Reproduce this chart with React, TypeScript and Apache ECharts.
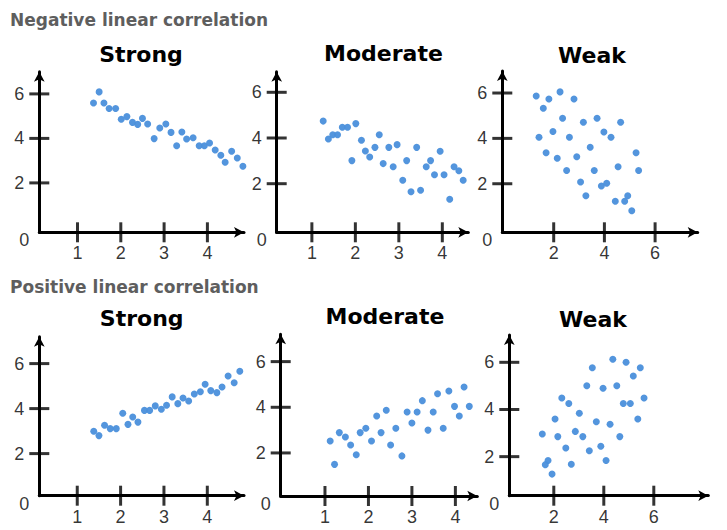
import React, { useEffect, useRef } from 'react';
import * as echarts from 'echarts';

// ---- data ----
const negStrong: [number, number][] = [
  [1.37, 5.59], [1.5, 6.09], [1.61, 5.59], [1.73, 5.34], [1.88, 5.34], [2.01, 4.86], [2.14, 4.98],
  [2.27, 4.72], [2.39, 4.63], [2.5, 4.9], [2.62, 4.65], [2.77, 3.99], [2.9, 4.47], [3.04, 4.65],
  [3.16, 4.27], [3.29, 3.67], [3.41, 4.29], [3.52, 3.97], [3.67, 4.03], [3.81, 3.67], [3.93, 3.67],
  [4.05, 3.79], [4.18, 3.48], [4.31, 3.24], [4.41, 2.93], [4.56, 3.42], [4.69, 3.12], [4.82, 2.75],
];
const negModerate: [number, number][] = [
  [1.26, 4.74], [1.38, 3.96], [1.48, 4.14], [1.59, 4.14], [1.7, 4.47], [1.82, 4.47], [2.01, 4.63],
  [1.92, 3.01], [2.14, 3.9], [2.23, 3.43], [2.33, 3.17], [2.45, 3.59], [2.55, 4.14], [2.64, 2.88],
  [2.77, 3.59], [2.87, 2.74], [2.96, 3.71], [3.09, 2.15], [3.18, 3.01], [3.28, 1.65], [3.41, 3.59],
  [3.5, 1.71], [3.63, 2.74], [3.73, 3.01], [3.82, 2.39], [3.95, 3.42], [4.04, 2.39], [4.17, 1.32],
  [4.27, 2.74], [4.38, 2.57], [4.48, 2.15],
];
const negWeak: [number, number][] = [
  [1.31, 5.87], [1.81, 5.74], [2.25, 6.05], [2.8, 5.74], [1.59, 5.33], [2.35, 4.89], [3.17, 4.71],
  [3.71, 4.89], [4.64, 4.71], [1.97, 4.3], [1.42, 4.05], [2.62, 4.05], [3.98, 4.28], [4.26, 4.05],
  [3.44, 3.61], [1.7, 3.37], [2.14, 3.12], [2.91, 3.19], [5.25, 3.37], [2.51, 2.58], [3.6, 2.58],
  [4.54, 2.75], [5.35, 2.58], [3.06, 2.08], [3.88, 1.9], [4.09, 2.02], [3.27, 1.47], [4.43, 1.23],
  [4.8, 1.23], [4.92, 1.47], [5.08, 0.81],
];
const posStrong: [number, number][] = [
  [1.38, 2.99], [1.5, 2.8], [1.63, 3.26], [1.76, 3.11], [1.9, 3.11], [2.05, 3.79], [2.17, 3.3],
  [2.28, 3.63], [2.4, 3.4], [2.55, 3.92], [2.67, 3.92], [2.8, 4.12], [2.94, 3.97], [3.06, 4.15],
  [3.19, 4.52], [3.32, 4.22], [3.44, 4.47], [3.57, 4.34], [3.7, 4.65], [3.84, 4.75], [3.95, 5.08],
  [4.08, 4.8], [4.22, 4.71], [4.34, 4.96], [4.48, 5.45], [4.62, 5.15], [4.75, 5.66], [4.89, 5.54],
];
const posModerate: [number, number][] = [
  [1.12, 2.52], [1.22, 1.5], [1.33, 2.89], [1.47, 2.7], [1.59, 2.35], [1.72, 1.92], [1.81, 2.89],
  [1.94, 3.08], [2.07, 2.52], [2.19, 3.62], [2.29, 2.89], [2.41, 3.87], [2.51, 2.35], [2.63, 3.08],
  [2.77, 1.87], [2.89, 3.79], [3.0, 3.31], [3.12, 3.79], [3.24, 4.29], [3.37, 3.0], [3.49, 3.79],
  [3.59, 4.59], [3.72, 3.08], [3.85, 4.71], [3.98, 4.04], [4.09, 3.62], [4.2, 4.89], [4.32, 4.04],
];
const posWeak: [number, number][] = [
  [4.36, 6.13], [4.89, 6.0], [3.54, 5.77], [5.46, 5.77], [5.18, 5.42], [3.32, 5.01], [3.97, 4.9],
  [4.52, 5.01], [2.32, 4.49], [2.6, 4.25], [4.78, 4.25], [5.06, 4.25], [5.61, 4.49], [2.05, 3.6],
  [3.02, 3.84], [3.7, 3.48], [4.25, 3.37], [5.36, 3.6], [1.54, 2.96], [2.16, 2.85], [2.86, 3.07],
  [3.16, 2.85], [4.64, 2.85], [2.48, 2.37], [3.42, 2.25], [3.88, 2.44], [1.77, 1.84], [1.66, 1.66],
  [2.7, 1.68], [4.09, 1.84], [1.93, 1.26],
];

const xTicksNarrow = [1, 2, 3, 4];
const xTicksWide = [2, 4, 6];
const yTicks = [2, 4, 6];
const originLabel = '0';
const sectionTitles = ['Negative linear correlation', 'Positive linear correlation'];
const strengthTitles = ['Strong', 'Moderate', 'Weak'];

// ---- layout (pixel geometry of each panel) ----
type Layout = { axisX: number; axisY: number; xTip: number; yTip: number; x0: number; xs: number; y0: number; ys: number };
const layouts: Layout[] = [
  { axisX: 39.3, axisY: 232.3, xTip: 249, yTip: 66.7, x0: 34.2, xs: 43.3, y0: 227.4, ys: 22.25 },
  { axisX: 276.7, axisY: 232.3, xTip: 473.3, yTip: 66.7, x0: 268.4, xs: 43.48, y0: 229.4, ys: 22.85 },
  { axisX: 502.3, axisY: 232.3, xTip: 702.7, yTip: 66, x0: 503.0, xs: 25.35, y0: 229.1, ys: 22.68 },
  { axisX: 39.3, axisY: 495.7, xTip: 249, yTip: 331.7, x0: 33.9, xs: 43.35, y0: 498.6, ys: 22.5 },
  { axisX: 280.7, axisY: 496, xTip: 482.3, yTip: 329.3, x0: 281.5, xs: 43.47, y0: 498.6, ys: 22.83 },
  { axisX: 509.3, axisY: 495.7, xTip: 713.3, yTip: 330, x0: 503.8, xs: 25, y0: 503.8, ys: 23.58 },
];
const panelData = [negStrong, negModerate, negWeak, posStrong, posModerate, posWeak];
const panelXTicks = [xTicksNarrow, xTicksNarrow, xTicksWide, xTicksNarrow, xTicksNarrow, xTicksWide];
const titlePos = [
  [141, 54.5], [383.5, 53], [592, 55],
  [141.7, 318], [385, 316.5], [593, 319],
];
const sectionPos = [[10, 20], [10, 287]];

const DOT = '#4a8fdb';
const LABEL_FONT = 'Liberation Sans, Arial, sans-serif';
const TITLE_FONT = 'DejaVu Sans, sans-serif';

function buildOption() {
  const grid: any[] = [];
  const xAxis: any[] = [];
  const yAxis: any[] = [];
  const series: any[] = [];
  layouts.forEach((p, i) => {
    const left = p.axisX;
    const top = p.yTip + 5;
    const right = p.xTip - 5;
    grid.push({ left, top, width: right - left, height: p.axisY - top, containLabel: false });
    const xmin = (p.axisX - p.x0) / p.xs;
    const xmax = (right - p.x0) / p.xs;
    const ymin = (p.y0 - p.axisY) / p.ys;
    const ymax = (p.y0 - top) / p.ys;
    const common = {
      type: 'value',
      gridIndex: i,
      axisLine: {
        show: true,
        onZero: false,
        symbol: ['none', 'arrow'],
        symbolSize: [8, 10],
        lineStyle: { color: '#000', width: 3 },
      },
      axisTick: { show: false },
      axisLabel: { show: false },
      splitLine: { show: false },
    };
    xAxis.push({ ...common, min: xmin, max: xmax });
    yAxis.push({ ...common, min: ymin, max: ymax });
    const labelBase = { show: true, fontSize: 18, fontFamily: LABEL_FONT, color: '#000' };
    series.push({
      type: 'scatter', xAxisIndex: i, yAxisIndex: i, silent: true,
      data: panelData[i], symbolSize: 7, itemStyle: { color: DOT, opacity: 0.95 }, z: 5,
    });
    series.push({
      type: 'scatter', xAxisIndex: i, yAxisIndex: i, silent: true, clip: false,
      data: panelXTicks[i].map((v) => [v, ymin]), symbol: 'rect', symbolSize: [3, 20],
      itemStyle: { color: '#000' },
      label: { ...labelBase, position: 'bottom', distance: 2, formatter: (d: any) => String(d.value[0]) },
    });
    series.push({
      type: 'scatter', xAxisIndex: i, yAxisIndex: i, silent: true, clip: false,
      data: yTicks.map((v) => [xmin, v]), symbol: 'rect', symbolSize: [20, 3],
      itemStyle: { color: '#000' },
      label: { ...labelBase, position: 'left', distance: 5, formatter: (d: any) => String(d.value[1]) },
    });
    series.push({
      type: 'scatter', xAxisIndex: i, yAxisIndex: i, silent: true, clip: false,
      data: [[xmin, ymin]], symbolSize: 0,
      itemStyle: { color: 'rgba(0,0,0,0)' },
      label: { ...labelBase, position: 'left', distance: 10, offset: [0, 8], formatter: () => originLabel },
    });
  });

  const graphic: any[] = [];
  sectionTitles.forEach((t, i) => {
    graphic.push({
      type: 'text', x: sectionPos[i][0], y: sectionPos[i][1],
      style: { text: t, fill: '#5e5e5e', font: `bold 17px ${TITLE_FONT}`, align: 'left', verticalAlign: 'middle' },
    });
  });
  titlePos.forEach((pos, i) => {
    graphic.push({
      type: 'text', x: pos[0], y: pos[1],
      style: { text: strengthTitles[i % 3], fill: '#000', font: `bold 22px ${TITLE_FONT}`, align: 'center', verticalAlign: 'middle' },
    });
  });

  return { animation: false, backgroundColor: '#fff', grid, xAxis, yAxis, series, graphic };
}

export default function App() {
  const ref = useRef<HTMLDivElement>(null);
  useEffect(() => {
    document.body.style.margin = '0';
    if (!ref.current) return;
    const chart = echarts.init(ref.current, undefined, { renderer: 'svg' });
    chart.setOption(buildOption() as any);
    return () => chart.dispose();
  }, []);
  return <div ref={ref} style={{ width: 727, height: 530 }} />;
}
